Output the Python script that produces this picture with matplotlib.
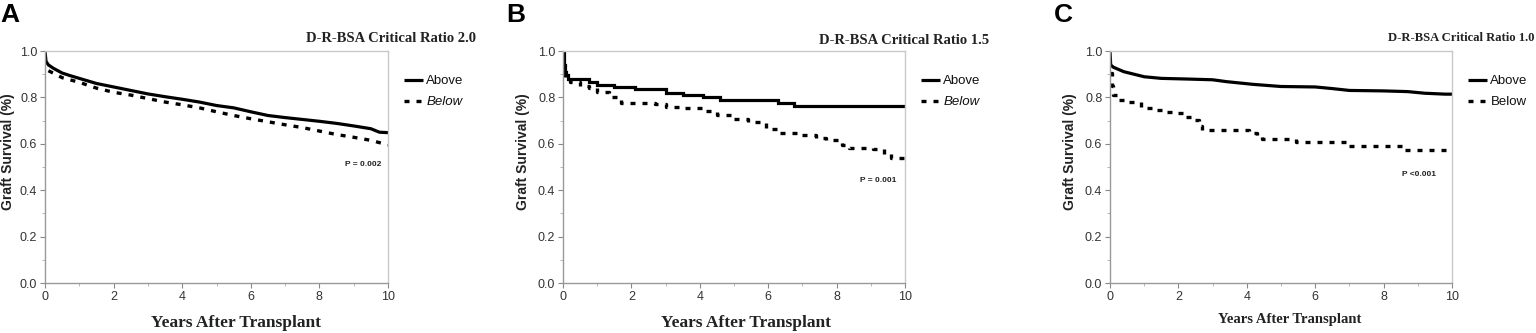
import matplotlib
matplotlib.use("Agg")
import matplotlib.pyplot as plt
from matplotlib.ticker import MultipleLocator

# ---------------- data ----------------
titles = ["D-R-BSA Critical Ratio 2.0", "D-R-BSA Critical Ratio 1.5", "D-R-BSA Critical Ratio 1.0"]
panel_letters = ["A", "B", "C"]
p_texts = ["P = 0.002", "P = 0.001", "P <0.001"]
legend_labels = ["Above", "Below"]

a_above_t = [0, 0.03, 0.1, 0.25, 0.5, 0.75, 1, 1.5, 2, 2.5, 3, 3.5, 4, 4.5, 5, 5.5, 6, 6.5, 7, 7.5, 8, 8.5, 9, 9.5, 9.75, 10]
a_above_v = [1.0, 0.955, 0.94, 0.925, 0.905, 0.893, 0.882, 0.86, 0.845, 0.83, 0.815, 0.803, 0.792, 0.78, 0.765, 0.755, 0.738, 0.722, 0.713, 0.705, 0.697, 0.688, 0.677, 0.665, 0.65, 0.648]
a_below_t = [0.1, 0.5, 1, 1.5, 2, 2.5, 3, 3.5, 4, 4.5, 5, 5.5, 6, 6.5, 7, 7.5, 8, 8.5, 9, 9.5, 10]
a_below_v = [0.915, 0.885, 0.865, 0.84, 0.822, 0.81, 0.795, 0.78, 0.768, 0.755, 0.738, 0.722, 0.708, 0.695, 0.682, 0.67, 0.655, 0.64, 0.628, 0.615, 0.595]

b_above_t = [0, 0.02, 0.05, 0.1, 0.15, 0.75, 1.0, 1.5, 2.1, 3.0, 3.5, 4.1, 4.6, 6.3, 6.75, 10]
b_above_v = [1.0, 0.94, 0.91, 0.895, 0.879, 0.865, 0.853, 0.846, 0.838, 0.82, 0.81, 0.802, 0.789, 0.777, 0.762, 0.762]
b_below_t = [0, 0.05, 0.2, 0.5, 0.76, 1.0, 1.34, 1.7, 2.7, 3.0, 3.5, 4.1, 4.5, 4.9, 5.4, 5.95, 6.35, 6.9, 7.4, 7.7, 8.15, 8.35, 9.05, 9.4, 9.6, 10]
b_below_v = [0.9, 0.88, 0.868, 0.85, 0.839, 0.825, 0.803, 0.777, 0.77, 0.76, 0.753, 0.74, 0.726, 0.705, 0.693, 0.662, 0.648, 0.64, 0.627, 0.616, 0.593, 0.58, 0.578, 0.556, 0.54, 0.538]

c_above_t = [0, 0.02, 0.1, 0.4, 1.0, 1.5, 2.3, 3.0, 3.4, 4.2, 5.0, 6.0, 6.5, 7.0, 8.0, 8.7, 9.2, 9.8, 10]
c_above_v = [1.0, 0.94, 0.93, 0.911, 0.889, 0.882, 0.879, 0.876, 0.868, 0.856, 0.847, 0.845, 0.838, 0.83, 0.828, 0.825, 0.818, 0.814, 0.814]
c_below_t = [0, 0.05, 0.1, 0.25, 0.5, 0.9, 1.3, 1.55, 1.9, 2.15, 2.4, 2.6, 2.7, 4.05, 4.3, 4.45, 5.45, 6.95, 8.55, 10]
c_below_v = [0.905, 0.85, 0.81, 0.789, 0.779, 0.753, 0.744, 0.738, 0.733, 0.717, 0.703, 0.677, 0.659, 0.645, 0.635, 0.62, 0.607, 0.591, 0.573, 0.573]

x_ticks = [0, 2, 4, 6, 8, 10]
y_ticks = [0.0, 0.2, 0.4, 0.6, 0.8, 1.0]

panels = [
    (a_above_t, a_above_v, "default", a_below_t, a_below_v, "default"),
    (b_above_t, b_above_v, "steps-post", b_below_t, b_below_v, "steps-post"),
    (c_above_t, c_above_v, "default", c_below_t, c_below_v, "steps-post"),
]

# ---------------- layout ----------------
W, H = 1536, 333
fig = plt.figure(figsize=(W / 100, H / 100), dpi=100)

ax_px = [(45, 388), (563, 905), (1110, 1452)]
ax_top, ax_bot = 51, 283
title_pos = [(476, 39), (989, 40), (1534, 38)]
title_size = [10.5, 10.5, 9.1]
xlabel_pos = [(236, 323), (746, 323), (1290, 320)]
xlabel_size = [12.5, 12.5, 10.5]
ylabel_x = [8, 523, 1070]
legend_pos = [(404, 75), (921, 75), (1468, 75)]
below_style = ["italic", "italic", "normal"]
p_pos = [(345, 164), (860, 180), (1402, 175)]
letter_pos = [(0, 15), (506, 15), (1054, 15)]

spine_col = "#c8c8c8"
tick_col = "#333333"
sans = ["Liberation Sans", "DejaVu Sans"]
serif = ["Liberation Serif", "DejaVu Serif"]

def fx(px):
    return px / W

def fy(py):
    return 1 - py / H

for i, (at, av, ads, bt, bv, bds) in enumerate(panels):
    l, r = ax_px[i]
    ax = fig.add_axes([fx(l), fy(ax_bot), (r - l) / W, (ax_bot - ax_top) / H])
    la, = ax.plot(at, av, color="black", lw=2.3, drawstyle=ads, solid_capstyle="butt",
                  solid_joinstyle="miter", label=legend_labels[0])
    lb, = ax.plot(bt, bv, color="black", lw=2.4, drawstyle=bds, linestyle=(0, (1.5, 2.1)),
                  dash_capstyle="butt", label=legend_labels[1])
    ax.set_xlim(0, 10)
    ax.set_ylim(0, 1.0)
    ax.set_xticks(x_ticks)
    ax.set_yticks(y_ticks)
    ax.set_xticklabels([str(v) for v in x_ticks], fontsize=9, color=tick_col, family=sans)
    ax.set_yticklabels([f"{v:.1f}" for v in y_ticks], fontsize=9, color=tick_col, family=sans)
    ax.xaxis.set_minor_locator(MultipleLocator(1))
    ax.yaxis.set_minor_locator(MultipleLocator(0.1))
    ax.tick_params(which="major", direction="out", length=3.5, width=0.8, color="#888888", pad=2)
    ax.tick_params(which="minor", direction="out", length=2, width=0.6, color="#aaaaaa")
    for s in ax.spines.values():
        s.set_color(spine_col)
        s.set_linewidth(1.0)
    ax.spines["left"].set_color("#999999")
    ax.spines["bottom"].set_color("#999999")

    tx, ty = title_pos[i]
    fig.text(fx(tx), fy(ty), titles[i], ha="right", va="center", fontsize=title_size[i],
             fontweight="bold", family=serif, color="#222222")
    xx, xy = xlabel_pos[i]
    fig.text(fx(xx), fy(xy), "Years After Transplant", ha="center", va="center",
             fontsize=xlabel_size[i], fontweight="bold", family=serif, color="#222222")
    fig.text(fx(ylabel_x[i]), fy(152), "Graft Survival (%)", rotation=90, ha="center",
             va="center", fontsize=10, fontweight="bold", family=sans, color="#222222")
    lx, ly = legend_pos[i]
    leg = ax.legend(handles=[la, lb], loc="upper left", bbox_to_anchor=(fx(lx), fy(ly)),
                    bbox_transform=fig.transFigure, frameon=False,
                    handlelength=1.45, handletextpad=0.25, labelspacing=0.66, borderpad=0,
                    borderaxespad=0, prop={"family": sans, "size": 9.5})
    texts = leg.get_texts()
    for t in texts:
        t.set_color("#111111")
    texts[1].set_fontstyle(below_style[i])
    px_, py_ = p_pos[i]
    fig.text(fx(px_), fy(py_), p_texts[i], ha="left", va="center", fontsize=6,
             fontweight="bold", family=sans, color="#222222")
    lpx, lpy = letter_pos[i]
    fig.text(fx(lpx), fy(lpy), panel_letters[i], ha="left", va="center", fontsize=19,
             fontweight="bold", family=sans, color="black")

fig.savefig("out.png", dpi=100)
